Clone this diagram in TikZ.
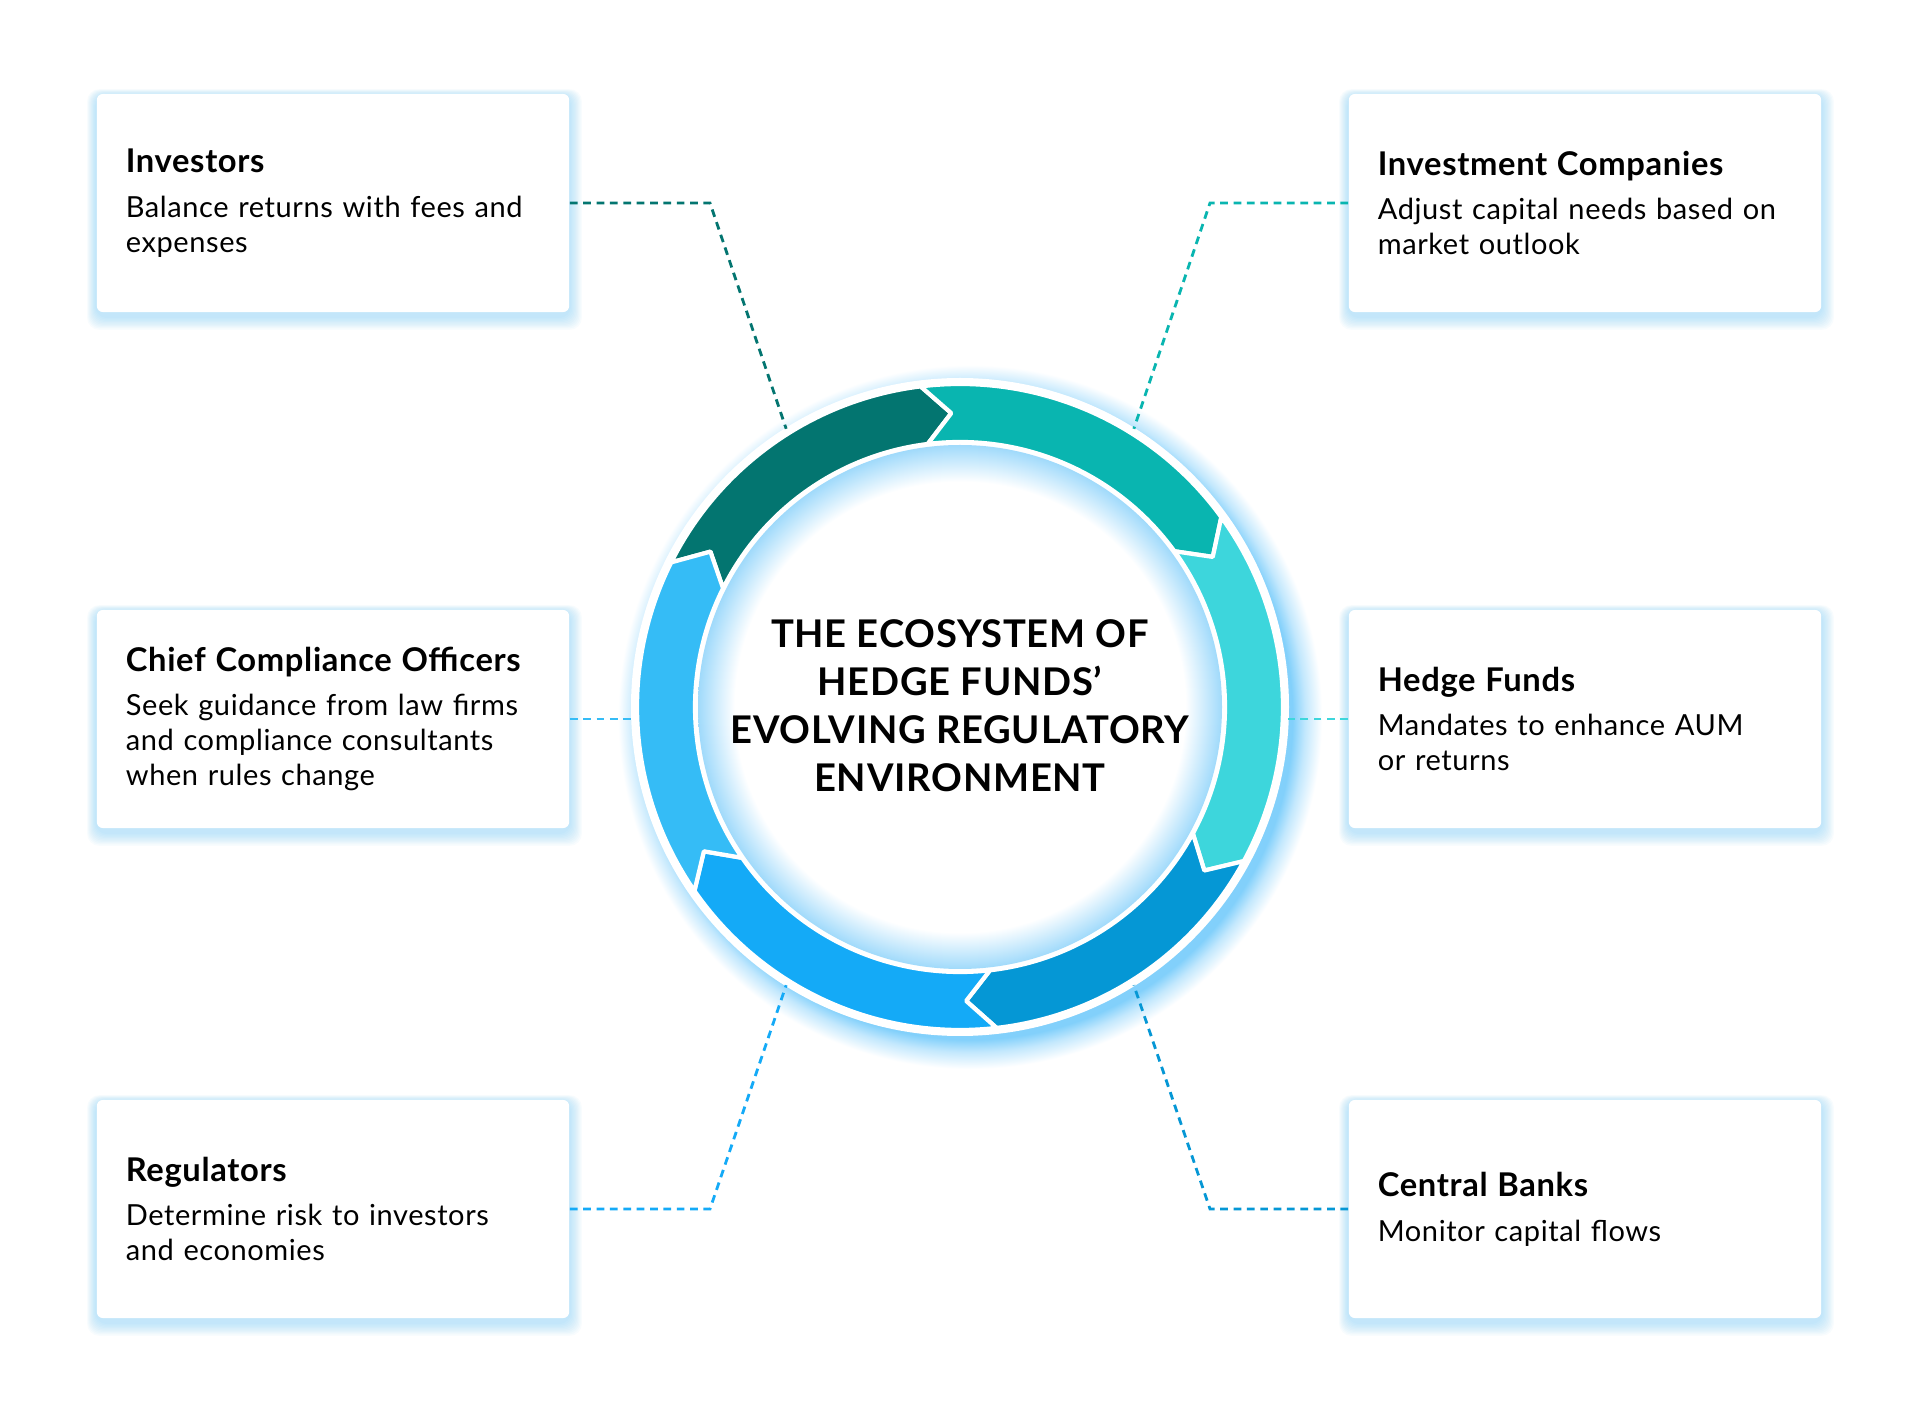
\documentclass[tikz,border=0pt]{standalone}
\usepackage{fontspec}
\setmainfont{Lato}[LetterSpace=2]
\usetikzlibrary{positioning}
\pgfdeclarelayer{background}
\pgfsetlayers{background,main}

\definecolor{segA}{RGB}{3,117,112}
\definecolor{segB}{RGB}{9,181,176}
\definecolor{segC}{RGB}{61,214,220}
\definecolor{segD}{RGB}{5,151,213}
\definecolor{segE}{RGB}{20,170,247}
\definecolor{segF}{RGB}{53,188,246}
\definecolor{glowc}{RGB}{95,196,250}
\definecolor{glowring}{RGB}{130,208,251}
\definecolor{glowmid}{RGB}{195,232,253}
\definecolor{glowin}{RGB}{160,218,251}

\pgfdeclareradialshading{ringglow}{\pgfpointorigin}{color(0bp)=(glowring); color(22.9bp)=(glowring); color(23.8bp)=(glowmid); color(25bp)=(white); color(50bp)=(white)}
\pgfdeclareradialshading{hubglow}{\pgfpointorigin}{color(0bp)=(white); color(21.5bp)=(white); color(25bp)=(glowin); color(50bp)=(glowin)}

\newcommand{\cardhead}[1]{{\bfseries\fontsize{9.3pt}{9.96pt}\selectfont #1}\\[2.8pt]}

\begin{document}
\begin{tikzpicture}[x=0.01cm,y=0.01cm,
  card/.style={rectangle, fill=white, rounded corners=0.06cm,
    minimum width=4.72cm, minimum height=2.18cm, text width=4.14cm,
    inner xsep=0.29cm, inner ysep=0pt, align=left,
    font=\fontsize{8.25pt}{9.96pt}\selectfont},
  link/.style={line width=0.8pt, dash pattern=on 2.2pt off 1.6pt}]
  \useasboundingbox (0,0) rectangle (1920,1408);
  \begin{pgfonlayer}{background}
    \fill[white] (0,0) rectangle (1920,1408);
  \end{pgfonlayer}

  % glow round the ring
  \shade[shading=ringglow] (970,691) circle (352);

  % ring of arrows
  \begin{scope}[shift={(960,701)}]
    \fill[white] (0,0) circle (329);
    \foreach \a/\b/\c in {153.4/97/segA, 97/36/segB, 36/-28.5/segC,
        -28.5/-83.5/segD, -83.5/-145.3/segE, -145.3/-206.6/segF}
      \filldraw[fill=\c, draw=white, line width=1.2pt, line join=round]
        (\a:323) arc[start angle=\a, end angle=\b, radius=323]
        -- ({\b-5.3}:294) -- (\b:265)
        arc[start angle=\b, end angle=\a, radius=265]
        -- ({\a-5.3}:294) -- cycle;
    \shade[shading=hubglow] (0,0) circle (262);
    \node[align=center, font=\bfseries\fontsize{10.85pt}{13.66pt}\selectfont] (hub) at (0,1.5)
      {THE ECOSYSTEM OF\\HEDGE FUNDS’\\EVOLVING REGULATORY\\ENVIRONMENT};
    \coordinate (pinv) at (122:328);
    \coordinate (pico) at (58:328);
    \coordinate (preg) at (-122:328);
    \coordinate (pcb) at (-58:328);
  \end{scope}

  % cards
  \node[card] (inv) at (333,1205) {\cardhead{Investors}Balance returns with fees and\\expenses};
  \node[card] (ico) at (1585,1205) {\cardhead{Investment Companies}Adjust capital needs based on\\market outlook};
  \node[card] (cco) at (333,689) {\cardhead{Chief Compliance Officers}Seek guidance from law firms\\and compliance consultants\\when rules change};
  \node[card] (hf) at (1585,689) {\cardhead{Hedge Funds}Mandates to enhance AUM\\or returns};
  \node[card] (reg) at (333,199) {\cardhead{Regulators}Determine risk to investors\\and economies};
  \node[card] (cb) at (1585,199) {\cardhead{Central Banks}Monitor capital flows};

  \begin{pgfonlayer}{background}
    \foreach \n in {inv,ico,cco,hf,reg,cb}
      \foreach \k in {1,...,10}
        \fill[glowc, opacity=0.045, rounded corners=0.12cm]
          ([shift={(-\k*0.9,-\k*1.3-4)}]\n.south west) rectangle ([shift={(\k*1.2,\k*0.6-2)}]\n.north east);
  \end{pgfonlayer}

  % dashed links
  \coordinate (kinv) at (710,1205);
  \coordinate (kico) at (1210,1205);
  \coordinate (kreg) at (710,199);
  \coordinate (kcb) at (1210,199);
  \coordinate (pcco) at (632,689);
  \coordinate (phf) at (1288,689);
  \draw[link, segA] (inv.east) -- (kinv) -- (pinv);
  \draw[link, segB] (ico.west) -- (kico) -- (pico);
  \draw[link, segF] (cco.east) -- (pcco);
  \draw[link, segC] (hf.west) -- (phf);
  \draw[link, segE] (reg.east) -- (kreg) -- (preg);
  \draw[link, segD] (cb.west) -- (kcb) -- (pcb);
\end{tikzpicture}
\end{document}
